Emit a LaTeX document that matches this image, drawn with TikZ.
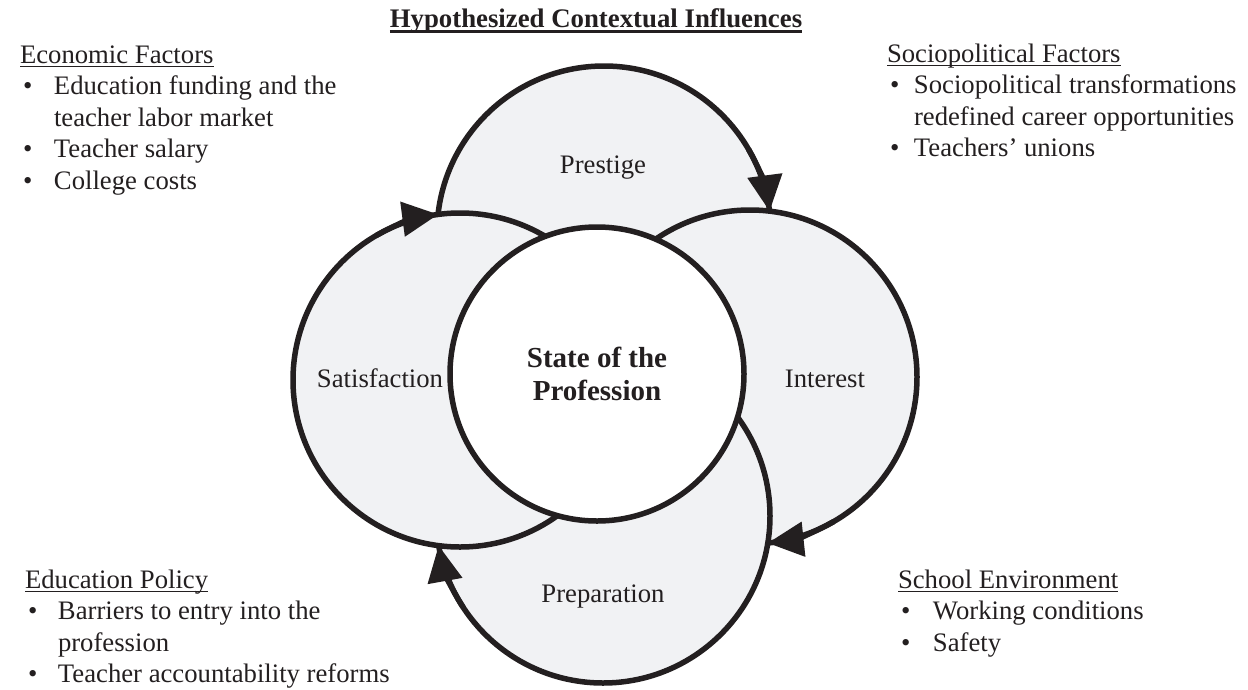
\documentclass[tikz,border=0pt]{standalone}
\usepackage{fontspec}
\setmainfont{Liberation Serif}
\usetikzlibrary{arrows.meta}

\definecolor{ink}{RGB}{35,31,32}
\definecolor{petal}{RGB}{241,242,244}

% text with a rule set at a fixed depth below the baseline
\newsavebox\ulinebox
\newcommand\underrule[3]{\sbox\ulinebox{#3}\rlap{\rule[-#1]{\wd\ulinebox}{#2}}\usebox\ulinebox}
% bulleted line and continuation line
\newcommand\itemrow[2]{\makebox[#1][l]{\hspace*{3pt}\textbullet}#2}
\newcommand\controw[2]{\hspace*{#1}#2}

\tikzset{
  every node/.style={inner sep=0pt, outer sep=0pt, text=ink},
  textblock/.style={anchor=base west, font=\fontsize{26.7}{31.6}\selectfont},
  petalcircle/.style={circle, draw=ink, fill=petal, line width=5.5pt, minimum size=334pt},
  corecircle/.style={circle, draw=ink, fill=white, line width=5.5pt, minimum size=294pt},
  petallabel/.style={anchor=base, font=\fontsize{26.7}{31.6}\selectfont},
  flowtip/.style={draw=ink, line width=5.5pt, -{Triangle[length=36pt,width=34pt]}},
}

\begin{document}
\begin{tikzpicture}[x=1pt,y=1pt]
\useasboundingbox (0,0) rectangle (1248,-689);

% title
\node[anchor=base, font=\fontsize{26.8}{32}\selectfont\bfseries] (title) at (596,-27)
  {\underrule{5.6pt}{2.3pt}{Hypothesized Contextual Influences}};

% four overlapping circles, drawn clockwise from the top
\node[petalcircle] (prestige) at (604,-233) {};
\node[petalcircle] (interest) at (750,-377) {};
\node[petalcircle] (preparation) at (603,-516) {};
\node[petalcircle] (satisfaction) at (460,-380) {};

% arrowheads where each circle meets the next one
\draw[flowtip] (prestige.30) arc[start angle=30, end angle=7.5, radius=167pt];
\draw[flowtip] (interest.-60) arc[start angle=-60, end angle=-83.9, radius=167pt];
\draw[flowtip] (preparation.213) arc[start angle=213, end angle=190.2, radius=167pt];
\draw[flowtip] (satisfaction.120) arc[start angle=120, end angle=97.5, radius=167pt];

% central circle
\node[corecircle] (state) at (597,-374) {};
\node[anchor=base, font=\fontsize{29}{33}\selectfont\bfseries] (statetext) at (597,-367)
  {\begin{tabular}[t]{@{}c@{}}State of the\\Profession\end{tabular}};

% circle labels
\node[petallabel] (prestigetext) at (603,-173) {Prestige};
\node[petallabel] (interesttext) at (825,-387) {Interest};
\node[petallabel] (preparationtext) at (603,-602) {Preparation};
\node[petallabel] (satisfactiontext) at (380,-387) {Satisfaction};

% contextual factor lists
\node[textblock] (economic) at (20,-63) {\begin{tabular}[t]{@{}l@{}}
  \underrule{4pt}{1.4pt}{Economic Factors}\\
  \itemrow{34pt}{Education funding and the}\\
  \controw{34pt}{teacher labor market}\\
  \itemrow{34pt}{Teacher salary}\\
  \itemrow{34pt}{College costs}
\end{tabular}};

\node[textblock] (sociopolitical) at (887,-62) {\begin{tabular}[t]{@{}l@{}}
  \underrule{4pt}{1.4pt}{Sociopolitical Factors}\\
  \itemrow{27pt}{Sociopolitical transformations}\\
  \controw{27pt}{redefined career opportunities}\\
  \itemrow{27pt}{Teachers’ unions}
\end{tabular}};

\node[textblock] (policy) at (25,-588) {\begin{tabular}[t]{@{}l@{}}
  \underrule{4pt}{1.4pt}{Education Policy}\\
  \itemrow{33pt}{Barriers to entry into the}\\
  \controw{33pt}{profession}\\
  \itemrow{33pt}{Teacher accountability reforms}
\end{tabular}};

\node[textblock] (school) at (898,-588) {\begin{tabular}[t]{@{}l@{}}
  \underrule{4pt}{1.4pt}{School Environment}\\
  \itemrow{35pt}{Working conditions}\\
  \itemrow{35pt}{Safety}
\end{tabular}};
\end{tikzpicture}
\end{document}
